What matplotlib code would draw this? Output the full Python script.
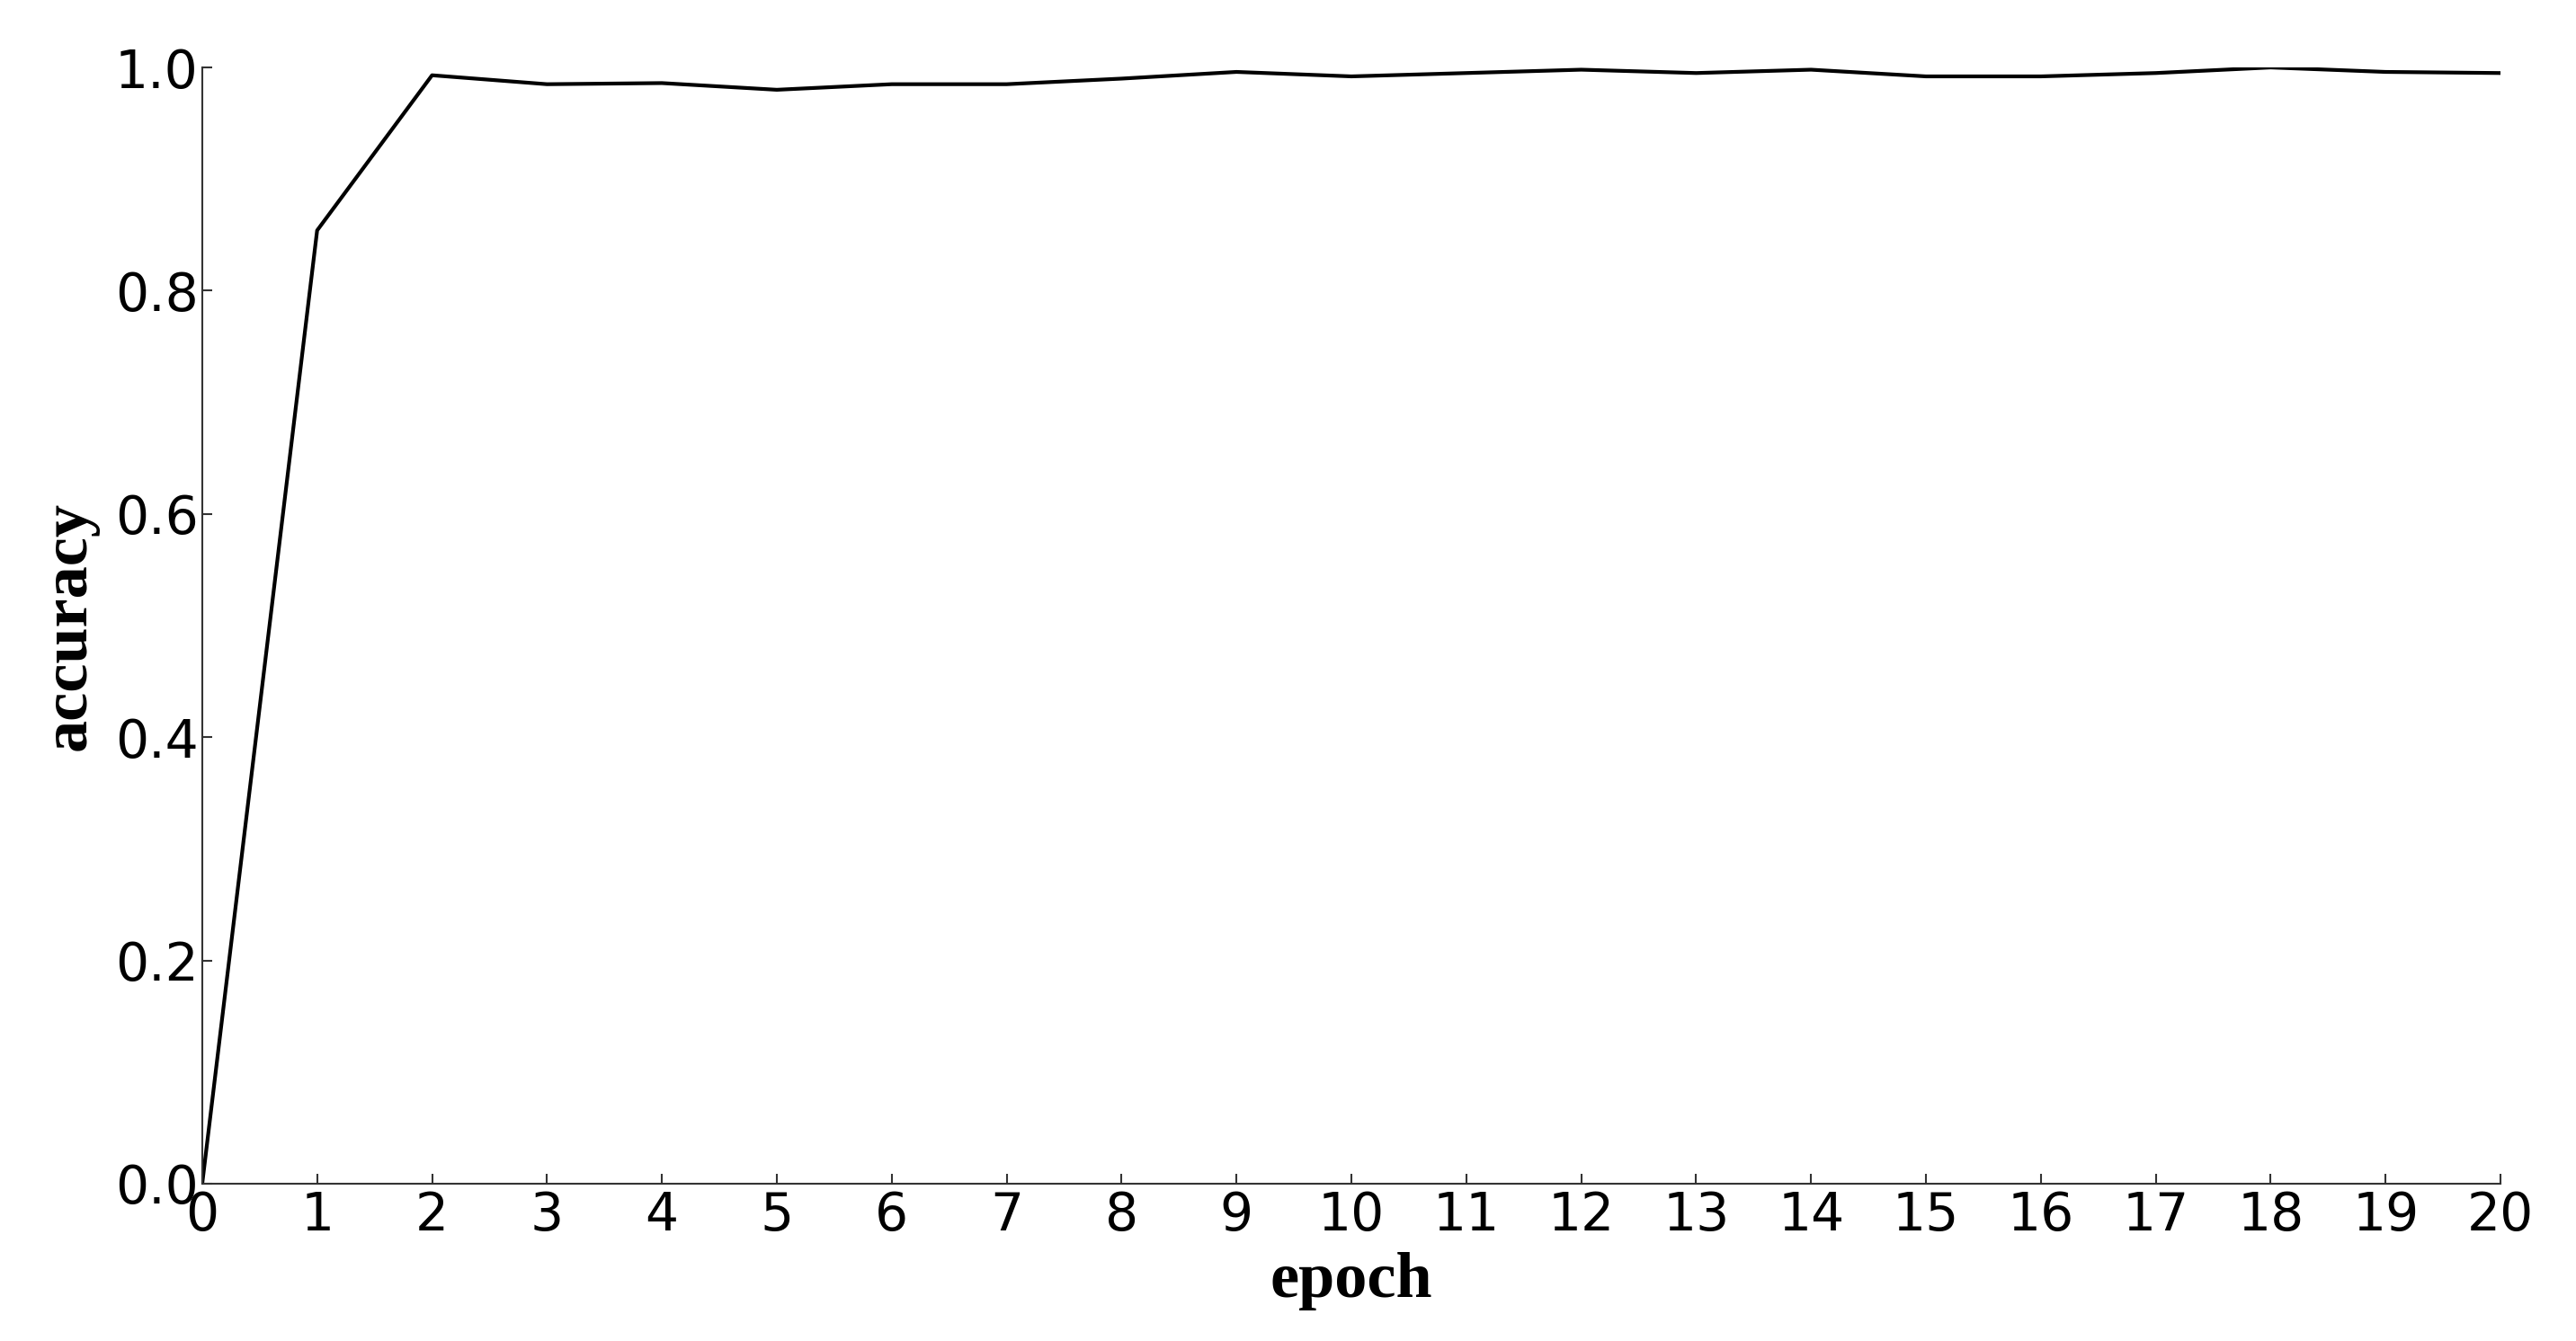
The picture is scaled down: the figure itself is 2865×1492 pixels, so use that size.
import matplotlib
matplotlib.use("Agg")
import matplotlib.pyplot as plt

epochs = list(range(0, 21))
accuracy = [0.0, 0.854, 0.993, 0.985, 0.986, 0.980, 0.985, 0.985, 0.990, 0.996,
            0.992, 0.995, 0.998, 0.995, 0.998, 0.992, 0.992, 0.995, 1.0, 0.996, 0.995]
y_ticks = [0.0, 0.2, 0.4, 0.6, 0.8, 1.0]


def main() -> None:
    fig = plt.figure(figsize=(28.65, 14.92), dpi=100)
    ax = fig.add_axes([0.0785, 0.1173, 0.8922, 0.8324])

    ax.plot(epochs, accuracy, color="black", linewidth=3.0)

    ax.set_xlim(0, 20)
    ax.set_ylim(0, 1.0)
    ax.set_xticks(epochs)
    ax.set_yticks(y_ticks)
    ax.set_yticklabels([f"{v:.1f}" for v in y_ticks])

    for side in ("top", "right"):
        ax.spines[side].set_visible(False)
    for side in ("left", "bottom"):
        ax.spines[side].set_color("#333333")
        ax.spines[side].set_linewidth(1.5)

    ax.tick_params(direction="in", length=8, width=1.5, color="#333333",
                   labelsize=42)
    ax.tick_params(axis="x", pad=5)
    ax.tick_params(axis="y", pad=3)

    label_font = dict(family="Liberation Serif", fontweight="bold", fontsize=52)
    ax.set_xlabel("epoch", va="center", **label_font)
    ax.set_ylabel("accuracy", va="center", **label_font)
    ax.xaxis.set_label_coords(0.5, -0.087)
    ax.yaxis.set_label_coords(-0.058, 0.5)

    fig.savefig("out.png", dpi=100, facecolor="white")
    plt.close(fig)


if __name__ == "__main__":
    main()
